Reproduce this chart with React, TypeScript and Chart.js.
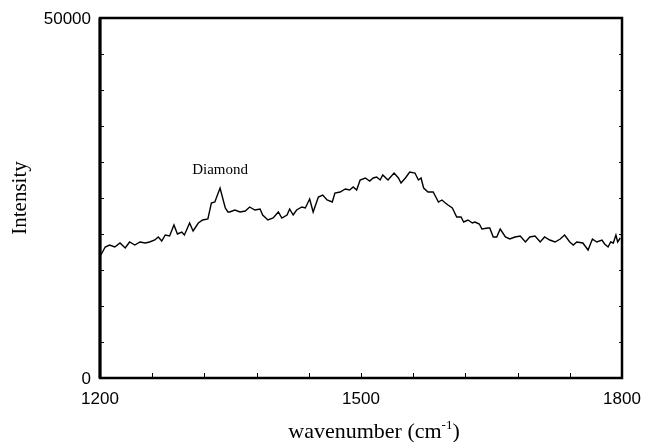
import React, { useEffect, useRef } from "react";
import { Chart, registerables } from "chart.js";

Chart.register(...registerables);

const wavenumbers = [
  1201, 1206, 1211, 1217, 1223, 1229, 1234, 1240, 1246, 1252, 1257, 1263, 1267, 1271, 1275, 1280,
  1285, 1289, 1294, 1297, 1303, 1307, 1313, 1318, 1324, 1328, 1332, 1338, 1344, 1347, 1349, 1355,
  1361, 1367, 1372, 1378, 1384, 1387, 1393, 1399, 1405, 1409, 1415, 1418, 1422, 1426, 1432, 1436,
  1441, 1445, 1451, 1456, 1461, 1467, 1470, 1476, 1482, 1487, 1491, 1495, 1499, 1505, 1510, 1514,
  1518, 1522, 1525, 1531, 1538, 1543, 1546, 1551, 1556, 1562, 1566, 1569, 1572, 1577, 1583, 1589,
  1593, 1597, 1600, 1605, 1610, 1615, 1618, 1623, 1628, 1631, 1636, 1639, 1646, 1648, 1652, 1656,
  1660, 1666, 1671, 1677, 1683, 1689, 1694, 1700, 1706, 1711, 1717, 1723, 1729, 1734, 1740, 1744,
  1748, 1755, 1761, 1766, 1771, 1777, 1780, 1784, 1787, 1790, 1793, 1795, 1798,
];

const intensity = [
  17083, 18194, 18472, 18194, 18750, 18056, 18889, 18472, 18889, 18750, 18889, 19167, 19583, 19028, 19861, 19722,
  21250, 20000, 20278, 19861, 21528, 20417, 21528, 21944, 22083, 24306, 24444, 26389, 23611, 23056, 23056, 23333,
  23056, 23194, 23750, 23333, 23472, 22639, 21944, 22222, 23056, 22222, 22639, 23472, 22639, 23333, 23750, 23611,
  24861, 23056, 25139, 25417, 24722, 24444, 25694, 25833, 26250, 26111, 26528, 26111, 27500, 27778, 27361, 27778,
  27917, 27500, 28194, 27500, 28472, 27778, 27083, 27778, 28611, 28472, 27500, 27778, 26389, 25833, 25833, 24444,
  24722, 24306, 24028, 23611, 22361, 22361, 21667, 21944, 21528, 21667, 21389, 20694, 20833, 20833, 19583, 19583,
  20694, 19583, 19306, 19583, 19722, 18889, 19583, 19722, 18889, 19583, 19167, 18889, 19306, 19861, 18889, 18472,
  18889, 18750, 17778, 19306, 18889, 19167, 18611, 18194, 18889, 18750, 19861, 18889, 19444,
];

const xMin = 1200;
const xMax = 1800;
const xMinorStep = 60;
const yMin = 0;
const yMax = 50000;
const yMinorStep = 5000;
const xTickLabels = [1200, 1500, 1800];
const yTickLabels = [0, 50000];
const annotationText = "Diamond";
const annotationAt = { x: 1338, y: 28900 };
const yTitle = "Intensity";
const xTitleMain = "wavenumber (cm";
const xTitleSup = "-1";
const xTitleEnd = ")";

const framePlugin = {
  id: "framePlugin",
  afterDraw(chart: any) {
    const { ctx, chartArea, scales } = chart;
    const { left, right, top, bottom } = chartArea;
    const xs = scales.x;
    const ys = scales.y;
    ctx.save();
    ctx.strokeStyle = "#000";
    ctx.lineWidth = 2.5;
    ctx.strokeRect(left, top, right - left, bottom - top);
    ctx.lineWidth = 3;
    ctx.beginPath();
    ctx.moveTo(left, top);
    ctx.lineTo(left, bottom);
    ctx.stroke();

    ctx.lineWidth = 1;
    for (let v = xMin + xMinorStep; v < xMax; v += xMinorStep) {
      const px = Math.round(xs.getPixelForValue(v)) + 0.5;
      ctx.beginPath();
      ctx.moveTo(px, bottom);
      ctx.lineTo(px, bottom - 5);
      ctx.stroke();
    }
    for (let v = yMin + yMinorStep; v < yMax; v += yMinorStep) {
      const py = Math.round(ys.getPixelForValue(v)) + 0.5;
      ctx.beginPath();
      ctx.moveTo(left, py);
      ctx.lineTo(left + 4, py);
      ctx.moveTo(right, py);
      ctx.lineTo(right - 3, py);
      ctx.stroke();
    }

    ctx.fillStyle = "#000";
    ctx.font = '17px "Liberation Sans", Arial, sans-serif';
    ctx.textAlign = "center";
    ctx.textBaseline = "middle";
    for (const v of xTickLabels) {
      ctx.fillText(String(v), xs.getPixelForValue(v), bottom + 21);
    }
    ctx.textAlign = "right";
    for (const v of yTickLabels) {
      ctx.fillText(String(v), left - 9, ys.getPixelForValue(v) + 1);
    }

    ctx.font = '15px "Liberation Serif", "Times New Roman", serif';
    ctx.textAlign = "center";
    ctx.textBaseline = "middle";
    ctx.fillText(annotationText, xs.getPixelForValue(annotationAt.x), ys.getPixelForValue(annotationAt.y));

    // y title
    ctx.save();
    ctx.font = '21px "Liberation Serif", "Times New Roman", serif';
    ctx.translate(20, (top + bottom) / 2);
    ctx.rotate(-Math.PI / 2);
    ctx.textAlign = "center";
    ctx.textBaseline = "middle";
    ctx.fillText(yTitle, 0, 0);
    ctx.restore();

    // x title with superscript
    const big = '22px "Liberation Serif", "Times New Roman", serif';
    const small = '13px "Liberation Serif", "Times New Roman", serif';
    ctx.textAlign = "left";
    ctx.textBaseline = "alphabetic";
    ctx.font = big;
    const w1 = ctx.measureText(xTitleMain).width;
    const w3 = ctx.measureText(xTitleEnd).width;
    ctx.font = small;
    const w2 = ctx.measureText(xTitleSup).width;
    const total = w1 + w2 + w3;
    const cx = (left + right) / 2 + 13;
    const baseY = bottom + 60;
    let x0 = cx - total / 2;
    ctx.font = big;
    ctx.fillText(xTitleMain, x0, baseY);
    x0 += w1;
    ctx.font = small;
    ctx.fillText(xTitleSup, x0, baseY - 9);
    x0 += w2;
    ctx.font = big;
    ctx.fillText(xTitleEnd, x0, baseY);
    ctx.restore();
  },
};

export default function App() {
  const ref = useRef<HTMLCanvasElement | null>(null);
  useEffect(() => {
    if (!ref.current) return;
    const points = wavenumbers.map((w, i) => ({ x: w, y: intensity[i] }));
    const chart = new Chart(ref.current, {
      type: "line",
      data: {
        datasets: [
          {
            data: points,
            borderColor: "#000",
            borderWidth: 1.4,
            pointRadius: 0,
            tension: 0,
            fill: false,
          },
        ],
      },
      options: {
        animation: false,
        responsive: false,
        devicePixelRatio: 1,
        layout: { padding: { left: 100, right: 33, top: 18, bottom: 64 } },
        plugins: { legend: { display: false }, tooltip: { enabled: false } },
        scales: {
          x: { type: "linear", min: xMin, max: xMax, display: false },
          y: { type: "linear", min: yMin, max: yMax, display: false },
        },
      },
      plugins: [framePlugin],
    });
    return () => chart.destroy();
  }, []);
  return (
    <div style={{ position: "absolute", left: 0, top: 0, width: 655, height: 442, background: "#fff" }}>
      <canvas ref={ref} width={655} height={442} />
    </div>
  );
}
